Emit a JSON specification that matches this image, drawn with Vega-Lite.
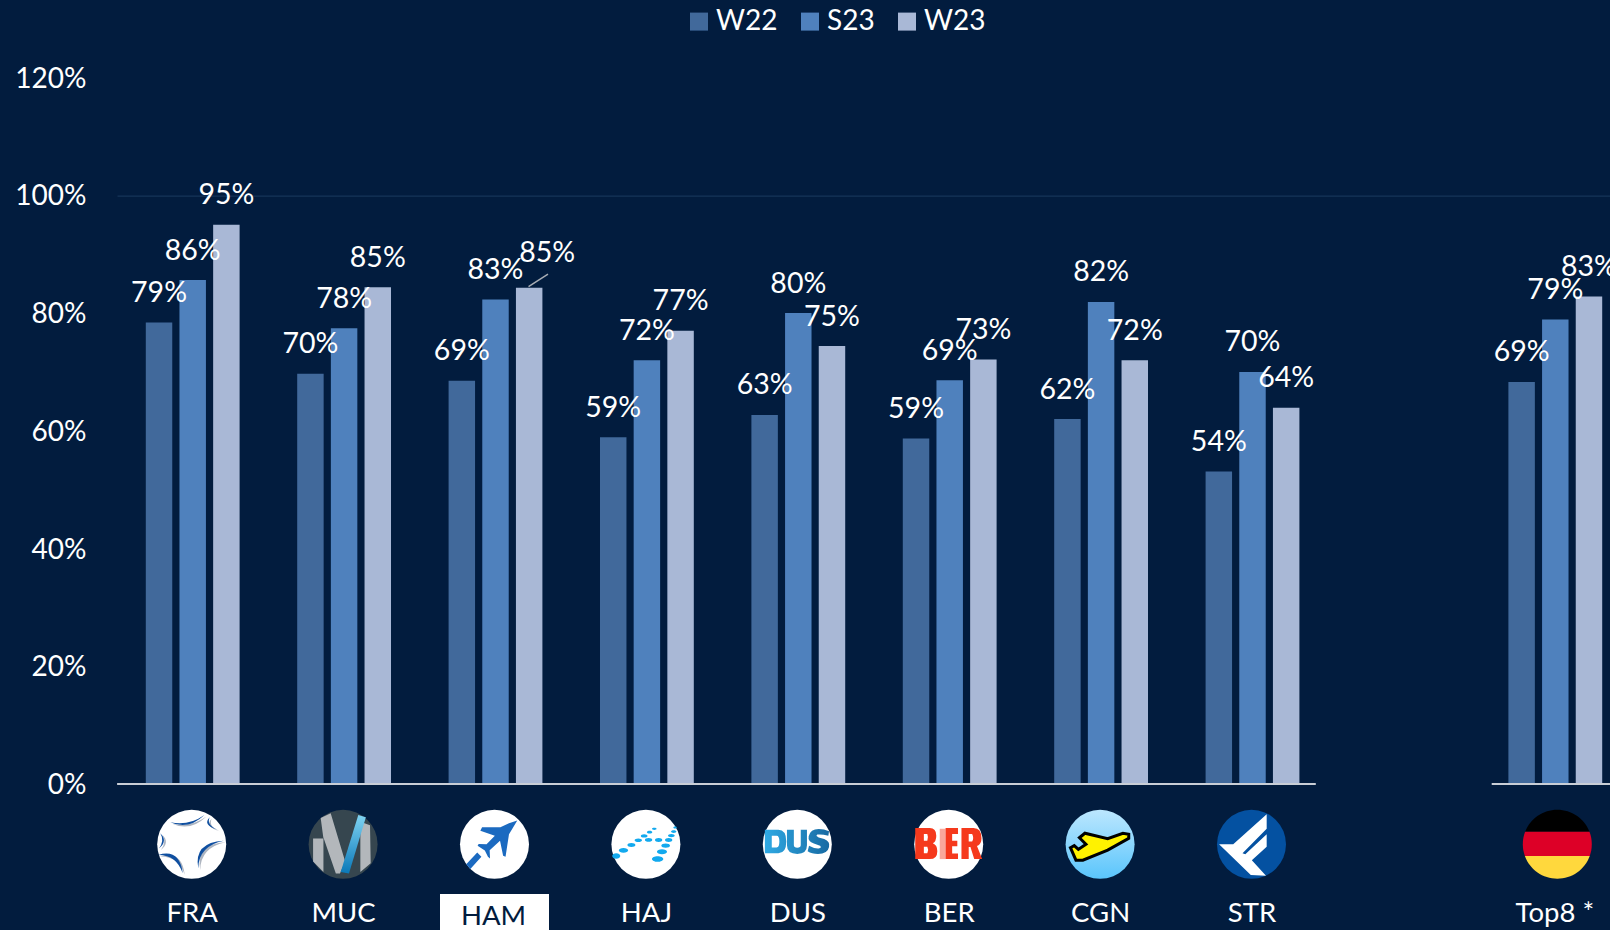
{
"$schema":"https://vega.github.io/schema/vega-lite/v6.json",
"width":1493,"height":706.4,
"autosize":{"type":"none"},
"padding":{"left":117,"top":77.6,"right":0,"bottom":146},
"background":"#021C3E",
"view":{"stroke":null},
"config":{"font":"Lato","axis":{"labelFont":"Lato"},"legend":{"labelFont":"Lato"},"text":{"font":"Lato"}},
"data":{"values":[
{"code":"FRA","period":"W22","value":0.784,"label":"79%"},{"code":"FRA","period":"S23","value":0.856,"label":"86%"},{"code":"FRA","period":"W23","value":0.95,"label":"95%"},
{"code":"MUC","period":"W22","value":0.697,"label":"70%"},{"code":"MUC","period":"S23","value":0.774,"label":"78%"},{"code":"MUC","period":"W23","value":0.844,"label":"85%"},
{"code":"HAM","period":"W22","value":0.685,"label":"69%"},{"code":"HAM","period":"S23","value":0.823,"label":"83%"},{"code":"HAM","period":"W23","value":0.843,"label":"85%"},
{"code":"HAJ","period":"W22","value":0.589,"label":"59%"},{"code":"HAJ","period":"S23","value":0.72,"label":"72%"},{"code":"HAJ","period":"W23","value":0.77,"label":"77%"},
{"code":"DUS","period":"W22","value":0.627,"label":"63%"},{"code":"DUS","period":"S23","value":0.80,"label":"80%"},{"code":"DUS","period":"W23","value":0.744,"label":"75%"},
{"code":"BER","period":"W22","value":0.587,"label":"59%"},{"code":"BER","period":"S23","value":0.686,"label":"69%"},{"code":"BER","period":"W23","value":0.721,"label":"73%"},
{"code":"CGN","period":"W22","value":0.62,"label":"62%"},{"code":"CGN","period":"S23","value":0.819,"label":"82%"},{"code":"CGN","period":"W23","value":0.72,"label":"72%"},
{"code":"STR","period":"W22","value":0.531,"label":"54%"},{"code":"STR","period":"S23","value":0.70,"label":"70%"},{"code":"STR","period":"W23","value":0.639,"label":"64%"},
{"code":"Top8 *","period":"W22","value":0.683,"label":"69%"},{"code":"Top8 *","period":"S23","value":0.789,"label":"79%"},{"code":"Top8 *","period":"W23","value":0.828,"label":"83%"}
]},
"encoding":{"x":{"field":"code","type":"nominal","sort":null,
 "scale":{"domain":["FRA","MUC","HAM","HAJ","DUS","BER","CGN","STR"," ","Top8 *"],"range":[0,1514],"paddingInner":0,"paddingOuter":0},
 "axis":{"title":null,"ticks":false,"domain":false,"grid":false,"labelAngle":0,"labelOverlap":false,"labelFontSize":27.5,"labelBaseline":"middle","zindex":1,
  "labelColor":{"condition":{"test":"datum.label=='HAM'","value":"#021C3E"},"value":"#FFFFFF"},
  "labelOffset":{"condition":{"test":"datum.label=='HAM'","value":-2},"value":-0.5},
  "labelPadding":{"condition":{"test":"datum.label=='HAM'","value":132},"value":129}}}},
"layer":[
{"mark":{"type":"bar"},
 "encoding":{
  "xOffset":{"field":"period","type":"nominal","sort":["W22","S23","W23"],"scale":{"domain":["W22","S23","W23"],"paddingInner":0.214,"paddingOuter":0.855}},
  "y":{"field":"value","type":"quantitative","scale":{"domain":[0,1.2],"nice":false},
   "axis":{"title":null,"values":[0,0.2,0.4,0.6,0.8,1,1.2],"format":".0%","ticks":false,"domain":false,"labelColor":"#FFFFFF","labelFontSize":28,"labelPadding":31,"labelOffset":1.5,
    "grid":true,"gridWidth":1,"gridColor":{"condition":{"test":"datum.value==1","value":"#1B3B5E"},"value":"transparent"}}},
  "color":{"field":"period","type":"nominal","sort":["W22","S23","W23"],"scale":{"domain":["W22","S23","W23"],"range":["#41699B","#4F81BD","#A9B8D6"]},
   "legend":{"title":null,"orient":"none","legendX":568,"legendY":-70,"direction":"horizontal","symbolType":"square","symbolSize":324,"symbolStrokeWidth":0,"symbolOpacity":1,"labelFontSize":28,"labelColor":"#FFFFFF","labelOffset":3,"columnPadding":18,"gridAlign":"each"}}
 }},
{"transform":[{"filter":"!(datum.code=='HAM'&&datum.period=='W23')"}],
 "mark":{"type":"text","color":"#FFFFFF","fontSize":28.5,"baseline":"middle","align":"center","dy":-29.5},
 "encoding":{"xOffset":{"field":"period","type":"nominal","sort":["W22","S23","W23"]},"y":{"field":"value","type":"quantitative"},"text":{"field":"label"}}},
{"transform":[{"filter":"datum.code=='HAM'&&datum.period=='W23'"}],
 "mark":{"type":"text","color":"#FFFFFF","fontSize":28.5,"baseline":"middle","align":"center","dy":-35,"dx":18},
 "encoding":{"xOffset":{"field":"period","type":"nominal","sort":["W22","S23","W23"]},"y":{"field":"value","type":"quantitative"},"text":{"field":"label"}}},
{"data":{"values":[{"code":"HAM"}]},
 "mark":{"type":"rule","color":"#A8ADB4","strokeWidth":1.5,"xOffset":33,"x2Offset":52.5},
 "encoding":{"x2":{"datum":"HAM"},"y":{"datum":0.845},"y2":{"datum":0.866}}},
{"data":{"values":[{"code":"FRA"}]},
 "mark":{"type":"rule","color":"#C9CED6","strokeWidth":2,"xOffset":-75.6,"x2Offset":63.3},
 "encoding":{"x2":{"datum":"STR"},"y":{"datum":0}}},
{"data":{"values":[{"code":"Top8 *"}]},
 "mark":{"type":"rule","color":"#C9CED6","strokeWidth":2,"xOffset":-63.6,"x2Offset":80},
 "encoding":{"x2":{"datum":"Top8 *"},"y":{"datum":0}}},
{"data":{"values":[{"code":"HAM"}]},
 "mark":{"type":"bar","color":"#FFFFFF","size":109,"xOffset":-1},
 "encoding":{"y":{"datum":-0.187},"y2":{"datum":-0.25}}},
{"data":{"values":[{"code":"FRA"},{"code":"HAM"},{"code":"HAJ"},{"code":"DUS"},{"code":"BER"}]},
 "mark":{"type":"point","filled":true,"opacity":1,"fill":"#FFFFFF","stroke":null,"shape":"circle","size":4761,"xOffset":-1},
 "encoding":{"y":{"datum":-0.1024}}},
{"data":{"values":[{"code":"MUC"}]},
 "mark":{"type":"point","filled":true,"opacity":1,"fill":"#36464F","stroke":null,"shape":"circle","size":4761,"xOffset":-1},
 "encoding":{"y":{"datum":-0.1024}}},
{"data":{"values":[{"code":"CGN"}]},
 "mark":{"type":"point","filled":true,"opacity":1,"stroke":null,"shape":"circle","size":4761,"xOffset":-1,
  "fill":{"gradient":"linear","x1":0,"y1":0,"x2":0,"y2":1,"stops":[{"offset":0,"color":"#BCE7FE"},{"offset":1,"color":"#5AC5FC"}]}},
 "encoding":{"y":{"datum":-0.1024}}},
{"data":{"values":[{"code":"STR"}]},
 "mark":{"type":"point","filled":true,"opacity":1,"fill":"#0451A1","stroke":null,"shape":"circle","size":4761,"xOffset":-1},
 "encoding":{"y":{"datum":-0.1024}}},
{"data":{"values":[{"code":"FRA"}]},
 "mark":{"type":"point","filled":true,"opacity":1,"fill":"#AEB5C0","stroke":null,"size":4761,"xOffset":1,"yOffset":1.5,
  "shape":"M-0.62,-0.64Q-0.1,-0.4 0.37,-0.85Q-0.1,-0.52 -0.62,-0.64ZM0.52,-0.78Q0.3,-0.55 0.75,-0.42Q0.42,-0.55 0.52,-0.78ZM0.93,-0.1Q0.05,-0.05 0.19,0.7Q0.2,0.05 0.93,-0.1ZM-0.97,0.31Q-0.35,0.12 -0.26,0.84Q-0.45,0.3 -0.97,0.31ZM-0.91,-0.32Q-0.68,-0.1 -0.95,0.12Q-0.78,-0.1 -0.91,-0.32Z"},
 "encoding":{"y":{"datum":-0.1024}}},
{"data":{"values":[{"code":"FRA"}]},
 "mark":{"type":"point","filled":true,"opacity":1,"fill":"#0F4FA0","stroke":null,"size":4761,"xOffset":-1,
  "shape":"M-0.62,-0.64Q-0.1,-0.4 0.37,-0.85Q-0.1,-0.52 -0.62,-0.64ZM0.52,-0.78Q0.3,-0.55 0.75,-0.42Q0.42,-0.55 0.52,-0.78ZM0.93,-0.1Q0.05,-0.05 0.19,0.7Q0.2,0.05 0.93,-0.1ZM-0.97,0.31Q-0.35,0.12 -0.26,0.84Q-0.45,0.3 -0.97,0.31ZM-0.91,-0.32Q-0.68,-0.1 -0.95,0.12Q-0.78,-0.1 -0.91,-0.32Z"},
 "encoding":{"y":{"datum":-0.1024}}},
{"data":{"values":[{"code":"MUC"}]},
 "mark":{"type":"point","filled":true,"opacity":1,"fill":"#B3B7BB","stroke":null,"size":4761,"xOffset":-1,
  "shape":"M-0.65,-0.76L-0.36,-0.9L0.06,0.5L-0.09,0.85L-0.21,0.85L-0.57,-0.2L-0.57,0.8L-0.87,0.5L-0.87,-0.17L-0.57,-0.17ZM0.5,-0.65L0.78,-0.55L0.8,0.55L0.5,0.8Z"},
 "encoding":{"y":{"datum":-0.1024}}},
{"data":{"values":[{"code":"MUC"}]},
 "mark":{"type":"point","filled":true,"opacity":1,"stroke":null,"size":4761,"xOffset":-1,
  "fill":{"gradient":"linear","x1":0,"y1":0,"x2":0,"y2":1,"stops":[{"offset":0,"color":"#7FD3F2"},{"offset":1,"color":"#0A78B8"}]},
  "shape":"M0.44,-0.85L0.66,-0.78L0.17,0.85L-0.07,0.8Z"},
 "encoding":{"y":{"datum":-0.1024}}},
{"data":{"values":[{"code":"HAM"}]},
 "mark":{"type":"point","filled":true,"opacity":1,"fill":"#1B6AC0","stroke":null,"size":4761,"xOffset":-1,
  "shape":"M0.66,-0.69L0.53,-0.47L0.42,-0.29L0.32,0.36L0.25,0.33L0.16,-0.1L-0.14,0.17L-0.13,0.41L-0.19,0.36L-0.28,0.18L-0.49,0.04L-0.46,-0.01L-0.23,0L0.01,-0.25L-0.41,-0.39L-0.36,-0.49L0.17,-0.49L0.42,-0.61ZM-0.5,0.24L-0.38,0.36L-0.7,0.72L-0.82,0.58Z"},
 "encoding":{"y":{"datum":-0.1024}}},
{"data":{"values":[{"code":"HAJ"}]},
 "mark":{"type":"point","filled":true,"opacity":1,"fill":"#12A9EE","stroke":null,"size":4761,"xOffset":-1,
  "shape":"M-0.977,0.34A0.117,0.078 0 1 0 -0.743,0.34A0.117,0.078 0 1 0 -0.977,0.34ZM-0.786,0.175A0.136,0.068 0 1 0 -0.514,0.175A0.136,0.068 0 1 0 -0.786,0.175ZM-0.537,0.02A0.117,0.058 0 1 0 -0.303,0.02A0.117,0.058 0 1 0 -0.537,0.02ZM-0.327,-0.117A0.107,0.053 0 1 0 -0.113,-0.117A0.107,0.053 0 1 0 -0.327,-0.117ZM-0.147,-0.243A0.097,0.049 0 1 0 0.047,-0.243A0.097,0.049 0 1 0 -0.147,-0.243ZM0.029,-0.35A0.078,0.039 0 1 0 0.185,-0.35A0.078,0.039 0 1 0 0.029,-0.35ZM0.175,-0.447A0.068,0.034 0 1 0 0.311,-0.447A0.068,0.034 0 1 0 0.175,-0.447ZM-0.029,-0.126A0.107,0.053 0 1 0 0.185,-0.126A0.107,0.053 0 1 0 -0.029,-0.126ZM0.262,-0.126A0.107,0.058 0 1 0 0.476,-0.126A0.107,0.058 0 1 0 0.262,-0.126ZM0.553,-0.126A0.107,0.058 0 1 0 0.767,-0.126A0.107,0.058 0 1 0 0.553,-0.126ZM0.641,-0.252A0.097,0.049 0 1 0 0.835,-0.252A0.097,0.049 0 1 0 0.641,-0.252ZM0.728,-0.369A0.078,0.039 0 1 0 0.884,-0.369A0.078,0.039 0 1 0 0.728,-0.369ZM0.795,-0.485A0.05,0.03 0 1 0 0.895,-0.485A0.05,0.03 0 1 0 0.795,-0.485ZM0.447,0.039A0.126,0.058 0 1 0 0.699,0.039A0.126,0.058 0 1 0 0.447,0.039ZM0.32,0.214A0.146,0.073 0 1 0 0.612,0.214A0.146,0.073 0 1 0 0.32,0.214ZM0.175,0.427A0.165,0.083 0 1 0 0.505,0.427A0.165,0.083 0 1 0 0.175,0.427Z"},
 "encoding":{"y":{"datum":-0.1024}}},
{"data":{"values":[{"code":"DUS"}]},
 "mark":{"type":"point","filled":true,"opacity":1,"stroke":null,"size":4761,"xOffset":-1,
  "fill":{"gradient":"linear","x1":0,"y1":0,"x2":1,"y2":0,"stops":[{"offset":0,"color":"#2FA9E3"},{"offset":1,"color":"#176AA3"}]},
  "shape":"M-0.94,-0.42L-0.55,-0.42Q-0.32,-0.42 -0.32,-0.08Q-0.32,0.26 -0.55,0.26L-0.94,0.26ZM-0.74,-0.25L-0.74,0.09L-0.6,0.09Q-0.52,0.09 -0.52,-0.08Q-0.52,-0.25 -0.6,-0.25ZM-0.3,-0.42L-0.1,-0.42L-0.1,0.02Q-0.1,0.1 0,0.1Q0.1,0.1 0.1,0.02L0.1,-0.42L0.28,-0.42L0.28,0.03Q0.28,0.28 0,0.28Q-0.3,0.28 -0.3,0.03ZM0.9,-0.25Q0.7,-0.3 0.58,-0.28Q0.52,-0.24 0.62,-0.2L0.78,-0.15Q0.96,-0.08 0.92,0.08Q0.88,0.28 0.6,0.28Q0.42,0.28 0.3,0.2L0.34,0.04Q0.5,0.13 0.62,0.12Q0.72,0.1 0.66,0.04L0.48,-0.02Q0.3,-0.08 0.33,-0.23Q0.38,-0.44 0.62,-0.44Q0.78,-0.44 0.92,-0.38Z"},
 "encoding":{"y":{"datum":-0.1024}}},
{"data":{"values":[{"code":"BER"}]},
 "mark":{"type":"point","filled":true,"opacity":1,"fill":"#F9A89B","stroke":null,"size":4761,"xOffset":-1,
  "shape":"M-0.26,-0.45L-0.09,-0.45L-0.09,0.43L-0.26,0.43Z"},
 "encoding":{"y":{"datum":-0.1024}}},
{"data":{"values":[{"code":"BER"}]},
 "mark":{"type":"point","filled":true,"opacity":1,"fill":"#F5391C","stroke":null,"size":4761,"xOffset":-1,
  "shape":"M-0.97,-0.47L-0.55,-0.47Q-0.36,-0.47 -0.36,-0.25Q-0.36,-0.08 -0.46,-0.03Q-0.33,0.02 -0.33,0.2Q-0.33,0.43 -0.55,0.43L-0.97,0.43ZM-0.72,-0.3L-0.72,-0.1L-0.62,-0.1Q-0.58,-0.2 -0.62,-0.3ZM-0.72,0.07L-0.72,0.26L-0.62,0.26Q-0.57,0.16 -0.62,0.07ZM-0.09,-0.47L0.27,-0.47L0.27,-0.3L0.1,-0.3L0.1,-0.1L0.25,-0.1L0.25,0.06L0.1,0.06L0.1,0.27L0.27,0.27L0.27,0.43L-0.09,0.43ZM0.37,-0.47L0.72,-0.47Q0.95,-0.47 0.95,-0.17Q0.95,0 0.82,0.05L0.97,0.43L0.74,0.43L0.63,0.08L0.58,0.08L0.58,0.43L0.37,0.43ZM0.58,-0.3L0.58,-0.08L0.68,-0.08Q0.74,-0.18 0.68,-0.3Z"},
 "encoding":{"y":{"datum":-0.1024}}},
{"data":{"values":[{"code":"CGN"}]},
 "mark":{"type":"point","filled":true,"opacity":1,"fill":"#FFF200","stroke":"#000000","strokeWidth":3,"size":4761,"xOffset":-1,
  "shape":"M-0.86,0.1L-0.75,0.04L-0.63,0.15L-0.41,0L-0.6,-0.19L-0.44,-0.32L0.22,-0.16L0.66,-0.32L0.83,-0.29L0.83,-0.17L0.22,0.17L-0.5,0.46L-0.7,0.46Z"},
 "encoding":{"y":{"datum":-0.1024}}},
{"data":{"values":[{"code":"STR"}]},
 "mark":{"type":"point","filled":true,"opacity":1,"fill":"#FFFFFF","stroke":null,"size":4761,"xOffset":-1,
  "shape":"M-0.94,0L-0.53,0L0.44,-0.87L0.44,-0.45L-0.26,0.26L-0.18,0.29L0.44,-0.29L0.44,0.07L0.01,0.46L0.42,0.91L-0.02,0.89Z"},
 "encoding":{"y":{"datum":-0.1024}}},
{"data":{"values":[{"code":"Top8 *"}]},
 "mark":{"type":"point","filled":true,"opacity":1,"fill":"#000000","stroke":null,"size":4761,"xOffset":2,
  "shape":"M-0.933,-0.36A1,1 0 0 1 0.933,-0.36Z"},
 "encoding":{"y":{"datum":-0.1024}}},
{"data":{"values":[{"code":"Top8 *"}]},
 "mark":{"type":"point","filled":true,"opacity":1,"fill":"#DD0027","stroke":null,"size":4761,"xOffset":2,
  "shape":"M-0.933,-0.36L0.933,-0.36A1,1 0 0 1 0.94,0.34L-0.94,0.34A1,1 0 0 1 -0.933,-0.36Z"},
 "encoding":{"y":{"datum":-0.1024}}},
{"data":{"values":[{"code":"Top8 *"}]},
 "mark":{"type":"point","filled":true,"opacity":1,"fill":"#FFD83D","stroke":null,"size":4761,"xOffset":2,
  "shape":"M-0.94,0.34L0.94,0.34A1,1 0 0 1 -0.94,0.34Z"},
 "encoding":{"y":{"datum":-0.1024}}}
]
}
